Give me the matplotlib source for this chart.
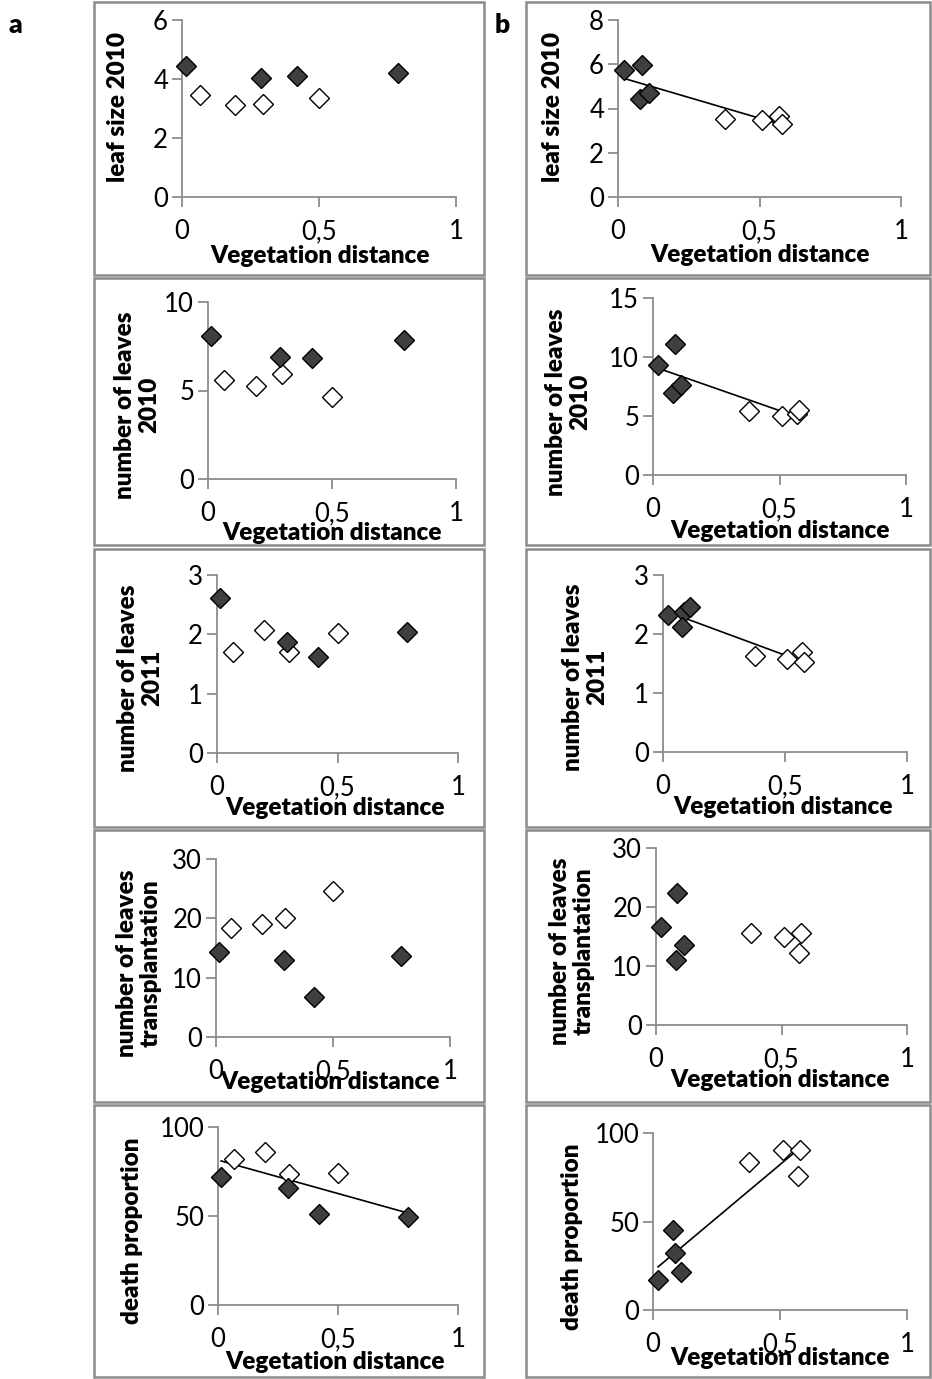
import numpy as np
import matplotlib
matplotlib.use("Agg")
import matplotlib.pyplot as plt
from matplotlib.patches import Rectangle

plt.rcParams['font.family'] = ['Lato', 'DejaVu Sans']

# ---- data ----
xa_filled = [0.013, 0.29, 0.42, 0.79]
xa_open = [0.065, 0.195, 0.297, 0.50]
xb_filled = [0.02, 0.085, 0.078, 0.11]
xb_open = [0.378, 0.51, 0.57, 0.578]

leaf_size_a_filled = [4.45, 4.03, 4.11, 4.21]
leaf_size_a_open = [3.47, 3.13, 3.15, 3.36]
leaves2010_a_filled = [8.07, 6.9, 6.81, 7.84]
leaves2010_a_open = [5.59, 5.27, 5.91, 4.62]
leaves2011_a_filled = [2.61, 1.87, 1.61, 2.04]
leaves2011_a_open = [1.70, 2.08, 1.71, 2.02]
transpl_a_filled = [14.3, 12.9, 6.74, 13.6]
transpl_a_open = [18.4, 19.1, 20.1, 24.55]
death_a_filled = [72, 66, 51.4, 49.2]
death_a_open = [82.2, 86, 73.5, 74.4]

leaf_size_b_filled = [5.74, 5.95, 4.42, 4.69]
leaf_size_b_open = [3.53, 3.49, 3.64, 3.31]
leaves2010_b_filled = [9.28, 11.12, 6.93, 7.64]
leaves2010_b_open = [5.46, 5.04, 5.18, 5.52]
leaves2011_b_filled = [2.32, 2.38, 2.12, 2.46]
leaves2011_b_open = [1.62, 1.57, 1.69, 1.52]
transpl_b_filled = [16.6, 22.35, 11.0, 13.6]
transpl_b_open = [15.6, 14.9, 12.2, 15.6]
death_b_filled = [17, 32, 45.3, 21.7]
death_b_open = [83.4, 90.6, 75.8, 90.2]

ylabels = ["leaf size 2010", "number of leaves\n2010", "number of leaves\n2011",
           "number of leaves\ntransplantation", "death proportion"]
xlabel = "Vegetation distance"
xticks = [0, 0.5, 1]
xticklabels = ["0", "0,5", "1"]

W, H = 932, 1379
fig = plt.figure(figsize=(W / 100, H / 100), dpi=100)
fig.patch.set_facecolor('white')

def fx(px):
    return px / W

def fy(py):
    return 1 - py / H

# frames (pixel boxes)
col_x = [(94, 484), (526, 930)]
row_y = [(2, 275), (278, 545), (549, 827), (830, 1102), (1105, 1377)]
for (xl, xr) in col_x:
    for (yt, yb) in row_y:
        fig.add_artist(Rectangle((fx(xl), fy(yb)), fx(xr) - fx(xl), (yb - yt) / H,
                                 transform=fig.transFigure, fill=False,
                                 edgecolor='#8c8c8c', linewidth=1.8))

panels = [
    # column a
    (182, 456, 20, 197, 6, [0, 2, 4, 6], xa_filled, leaf_size_a_filled, xa_open, leaf_size_a_open, False, (320, 256), (118, 107), ylabels[0]),
    (208, 456, 302, 479, 10, [0, 5, 10], xa_filled, leaves2010_a_filled, xa_open, leaves2010_a_open, False, (332, 533), (137, 405), ylabels[1]),
    (217, 458, 575, 753, 3, [0, 1, 2, 3], xa_filled, leaves2011_a_filled, xa_open, leaves2011_a_open, False, (335, 808), (140, 678), ylabels[2]),
    (216, 450, 859, 1037, 30, [0, 10, 20, 30], xa_filled, transpl_a_filled, xa_open, transpl_a_open, False, (330, 1082), (139, 963), ylabels[3]),
    (218, 458, 1127, 1305, 100, [0, 50, 100], xa_filled, death_a_filled, xa_open, death_a_open, True, (335, 1362), (132, 1231), ylabels[4]),
    # column b
    (618, 901, 20, 197, 8, [0, 2, 4, 6, 8], xb_filled, leaf_size_b_filled, xb_open, leaf_size_b_open, True, (760, 255), (553, 107), ylabels[0]),
    (653, 906, 298, 475, 15, [0, 5, 10, 15], xb_filled, leaves2010_b_filled, xb_open, leaves2010_b_open, True, (780, 531), (568, 402), ylabels[1]),
    (663, 907, 575, 752, 3, [0, 1, 2, 3], xb_filled, leaves2011_b_filled, xb_open, leaves2011_b_open, True, (783, 807), (585, 677), ylabels[2]),
    (656, 907, 848, 1025, 30, [0, 10, 20, 30], xb_filled, transpl_b_filled, xb_open, transpl_b_open, False, (780, 1080), (572, 951), ylabels[3]),
    (653, 907, 1133, 1310, 100, [0, 50, 100], xb_filled, death_b_filled, xb_open, death_b_open, True, (780, 1358), (572, 1237), ylabels[4]),
]

spine_col = '#8c8c8c'
for (x0, x1, yt, y0, ymax, yt_list, xf, yf, xo, yo, trend, xlab, ylab, ylabtxt) in panels:
    ax = fig.add_axes([fx(x0), fy(y0), (x1 - x0) / W, (y0 - yt) / H])
    ax.set_xlim(0, 1)
    ax.set_ylim(0, ymax)
    ax.patch.set_alpha(0)
    for s in ['top', 'right']:
        ax.spines[s].set_visible(False)
    for s in ['left', 'bottom']:
        ax.spines[s].set_color(spine_col)
        ax.spines[s].set_linewidth(1.3)
    ax.set_xticks(xticks)
    ax.set_xticklabels(xticklabels)
    ax.set_yticks(yt_list)
    ax.tick_params(axis='both', direction='out', length=7, width=1.3, color=spine_col,
                   labelsize=18.5, labelcolor='black')
    ax.tick_params(axis='x', pad=9)
    ax.tick_params(axis='y', pad=3)
    if trend:
        xs = np.array(xf + xo)
        ys = np.array(yf + yo)
        k, b = np.polyfit(xs, ys, 1)
        xx = np.array([xs.min(), xs.max()])
        ax.plot(xx, k * xx + b, color='black', linewidth=1.2, zorder=2)
    ax.plot(xo, yo, linestyle='none', marker='D', markersize=10.5, markerfacecolor='white',
            markeredgecolor='black', markeredgewidth=1.0, zorder=3, clip_on=False)
    ax.plot(xf, yf, linestyle='none', marker='D', markersize=10.5, markerfacecolor='#3f3f3f',
            markeredgecolor='black', markeredgewidth=1.0, zorder=4, clip_on=False)
    ax.set_xlabel(xlabel, fontsize=17.5, fontweight='heavy', va='center', ha='center')
    ax.xaxis.set_label_coords((xlab[0] - x0) / (x1 - x0), (y0 - xlab[1]) / (y0 - yt))
    ax.set_ylabel(ylabtxt, fontsize=17.5, fontweight='heavy', va='center', ha='center',
                  multialignment='center', linespacing=1.12)
    ax.yaxis.set_label_coords((ylab[0] - x0) / (x1 - x0), (y0 - ylab[1]) / (y0 - yt))

fig.text(fx(15), fy(25), "a", fontsize=19, fontweight='heavy', ha='center', va='center')
fig.text(fx(502), fy(25), "b", fontsize=19, fontweight='heavy', ha='center', va='center')

fig.savefig("out.png", dpi=100)
